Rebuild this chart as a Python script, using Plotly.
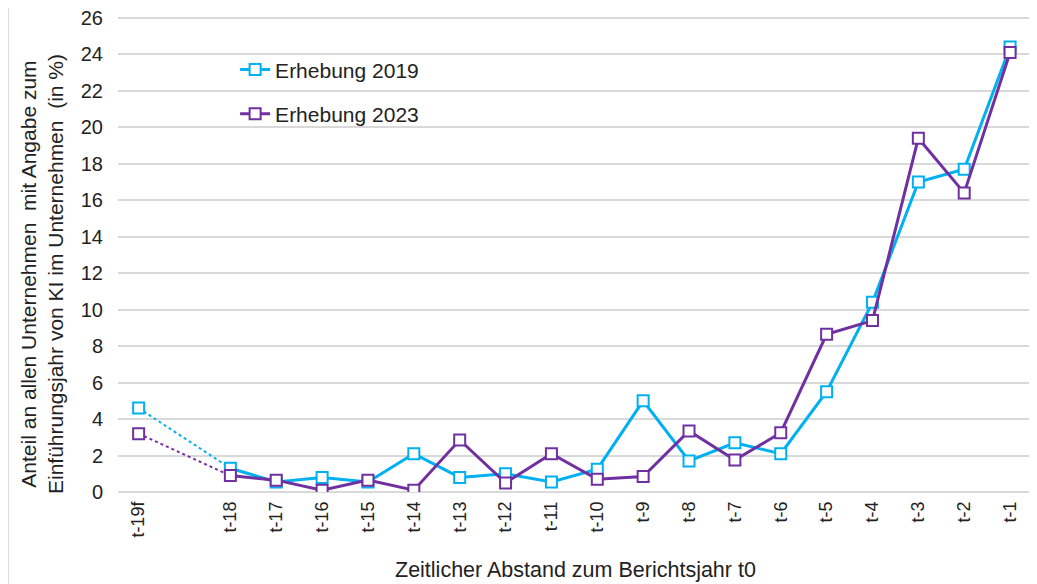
import plotly.graph_objects as go

categories = ["t-19f", " ", "t-18", "t-17", "t-16", "t-15", "t-14", "t-13", "t-12", "t-11",
              "t-10", "t-9", "t-8", "t-7", "t-6", "t-5", "t-4", "t-3", "t-2", "t-1"]
main_cats = categories[2:]

first_2019 = 4.6
first_2023 = 3.2
vals_2019 = [1.3, 0.55, 0.8, 0.55, 2.1, 0.8, 1.0, 0.55, 1.25, 5.0, 1.7, 2.7, 2.1, 5.5, 10.4, 17.0, 17.7, 24.4]
vals_2023 = [0.9, 0.65, 0.1, 0.65, 0.1, 2.85, 0.5, 2.1, 0.7, 0.85, 3.35, 1.75, 3.25, 8.65, 9.4, 19.4, 16.4, 24.1]

x_title = "Zeitlicher Abstand zum Berichtsjahr t0"
y_title = "Anteil an allen Unternehmen  mit Angabe zum<br>Einführungsjahr von KI im Unternehmen  (in %)"

C19 = "#00B0F0"
C23 = "#7030A0"
FONT = "Liberation Sans, Arial, sans-serif"

fig = go.Figure()
for name, col, first, vals, grp in [("Erhebung 2019", C19, first_2019, vals_2019, "a"),
                                    ("Erhebung 2023", C23, first_2023, vals_2023, "b")]:
    fig.add_trace(go.Scatter(x=[categories[0], main_cats[0]], y=[first, vals[0]], mode="lines",
                             line=dict(color=col, width=2, dash="dot"), showlegend=False,
                             hoverinfo="skip"))
    fig.add_trace(go.Scatter(x=main_cats, y=vals, mode="lines+markers", name=name,
                             legendgroup=grp,
                             line=dict(color=col, width=3),
                             marker=dict(symbol="square", size=11, color="white",
                                         line=dict(color=col, width=2))))
    fig.add_trace(go.Scatter(x=[categories[0]], y=[first], mode="markers", showlegend=False,
                             legendgroup=grp,
                             marker=dict(symbol="square", size=11, color="white",
                                         line=dict(color=col, width=2))))

fig.update_layout(
    width=1029, height=576,
    margin=dict(l=110, r=4, t=8, b=92),
    paper_bgcolor="white", plot_bgcolor="white",
    font=dict(family=FONT, size=18, color="#222222"),
    legend=dict(x=0.128, y=0.93, xanchor="left", yanchor="top", bgcolor="rgba(0,0,0,0)",
                font=dict(size=21), tracegroupgap=14, traceorder="grouped"),
    xaxis=dict(type="category", categoryorder="array", categoryarray=categories,
               range=[-0.45, 19.5], tickangle=-90, showgrid=False, showline=False,
               ticks="", tickfont=dict(size=18), ticklabelstandoff=5, automargin=False),
    yaxis=dict(range=[0, 26.1], tickvals=list(range(0, 27, 2)), showgrid=True,
               gridcolor="#D9D9D9", gridwidth=1.5,
               zeroline=True, zerolinecolor="#D9D9D9", zerolinewidth=1.5, ticks="",
               tickfont=dict(size=20), ticklabelstandoff=14, automargin=False,
               ticklabeloverflow="allow"),
    annotations=[
        dict(text=x_title, xref="paper", yref="paper", x=0.5, y=-0.1646,
             xanchor="center", yanchor="middle", showarrow=False, font=dict(size=21.5)),
        dict(text=y_title, xref="paper", yref="paper", x=-0.083, y=0.458,
             xanchor="center", yanchor="middle", showarrow=False, textangle=-90,
             font=dict(size=21)),
    ],
    shapes=[dict(type="line", xref="paper", yref="paper", x0=-110 / 915, x1=-110 / 915,
                 y0=-0.2, y1=1.05, line=dict(color="#D0D0D0", width=1.5))],
)

fig.write_html("out.html")
